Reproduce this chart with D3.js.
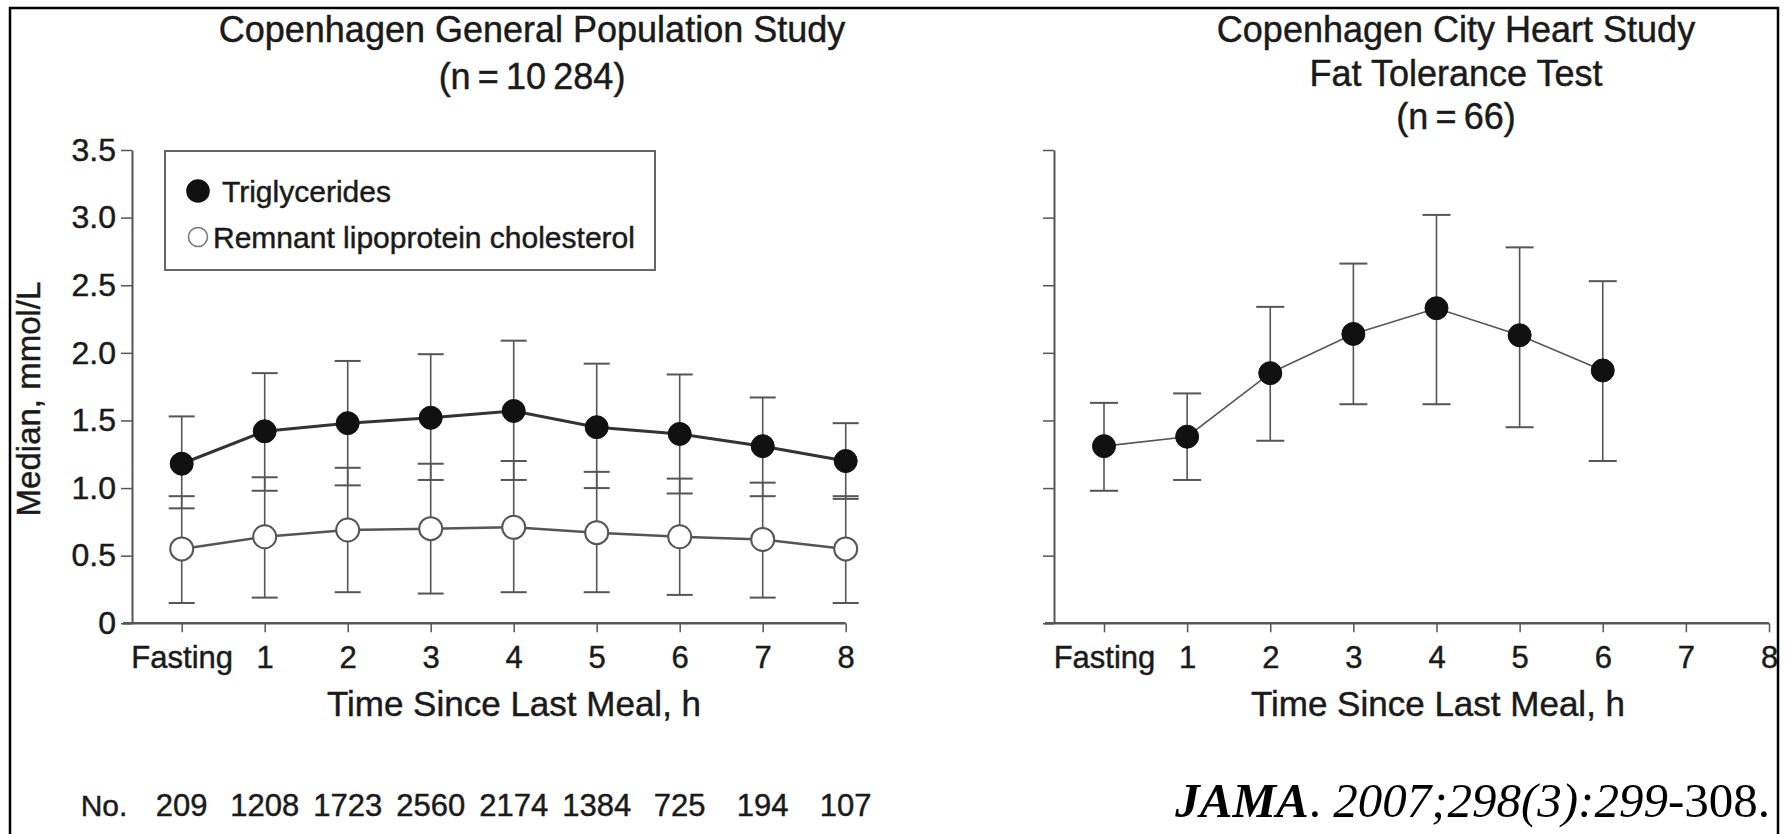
<!DOCTYPE html>
<html>
<head>
<meta charset="utf-8">
<script src="https://cdn.jsdelivr.net/npm/d3@7"></script>
<style>
  body { margin: 0; background: #fff; }
  svg { display: block; font-family: "Liberation Sans", Arial, Helvetica, sans-serif; }
  .lbl text, text.lbl { fill: #1a1a1a; stroke: #1a1a1a; stroke-width: 0.45; }
</style>
</head>
<body>
<div id="chart"></div>
<script>
// data
const timeLabels = ["Fasting", "1", "2", "3", "4", "5", "6", "7", "8"];
const sampleSizes = [209, 1208, 1723, 2560, 2174, 1384, 725, 194, 107];

// Copenhagen General Population Study
const tgMedian  = [1.18, 1.42, 1.48, 1.52, 1.57, 1.45, 1.40, 1.31, 1.20];
const tgLow     = [0.85, 0.98, 1.02, 1.06, 1.06, 1.00, 0.96, 0.94, 0.92];
const tgHigh    = [1.53, 1.85, 1.94, 1.99, 2.09, 1.92, 1.84, 1.67, 1.48];
const remMedian = [0.55, 0.64, 0.69, 0.70, 0.71, 0.67, 0.64, 0.62, 0.55];
const remLow    = [0.15, 0.19, 0.23, 0.22, 0.23, 0.23, 0.21, 0.19, 0.15];
const remHigh   = [0.94, 1.08, 1.15, 1.18, 1.20, 1.12, 1.07, 1.04, 0.94];

// Copenhagen City Heart Study, fat tolerance test (fasting to 6 h)
const fatMedian = [1.31, 1.38, 1.85, 2.14, 2.33, 2.13, 1.87];
const fatLow    = [0.98, 1.06, 1.35, 1.62, 1.62, 1.45, 1.20];
const fatHigh   = [1.63, 1.70, 2.34, 2.66, 3.02, 2.78, 2.53];

const yTicks = [0, 0.5, 1.0, 1.5, 2.0, 2.5, 3.0, 3.5];

const W = 1787, H = 834;

const svg = d3.select("#chart").append("svg")
  .attr("width", W)
  .attr("height", H);

// shared y scale
const y = d3.scaleLinear().domain([0, 3.5]).range([623.3, 150]);

const xLeft = d3.scalePoint().domain(timeLabels).range([181.7, 845.7]);
const xRight = d3.scalePoint().domain(timeLabels).range([1104, 1769]);

function makeSeries(med, lo, hi) {
  return med.map((m, i) => ({ t: timeLabels[i], m: m, lo: lo[i], hi: hi[i] }));
}

function drawAxes(x, axisX, lineStart, showLabels) {
  const g = svg.append("g");

  const ya = g.append("g")
    .attr("class", "lbl")
    .attr("transform", `translate(${axisX},0)`)
    .call(d3.axisLeft(y)
      .tickValues(yTicks)
      .tickSize(11)
      .tickSizeOuter(0)
      .tickPadding(5)
      .tickFormat(d => showLabels ? (d === 0 ? "0" : d.toFixed(1)) : ""));
  ya.select(".domain").attr("stroke", "#555").attr("stroke-width", 2);
  ya.selectAll(".tick line").attr("stroke", "#555").attr("stroke-width", 1.5);
  ya.selectAll(".tick text").attr("font-size", 32).attr("font-family", null).attr("fill", null);

  const xa = g.append("g")
    .attr("class", "lbl")
    .attr("transform", `translate(0,${y(0)})`)
    .call(d3.axisBottom(x)
      .tickSize(9)
      .tickSizeOuter(0)
      .tickPadding(14));
  xa.select(".domain")
    .attr("d", `M${lineStart},0H${x(timeLabels[timeLabels.length - 1])}`)
    .attr("stroke", "#555").attr("stroke-width", 2.5);
  xa.selectAll(".tick line").attr("stroke", "#555").attr("stroke-width", 1.5);
  xa.selectAll(".tick text").attr("font-size", 31).attr("font-family", null).attr("fill", null);

  return g;
}

function drawErrorBars(g, x, data, cap, color) {
  const eb = g.append("g").attr("stroke", color).attr("stroke-width", 1.6);
  eb.selectAll("line.v").data(data).join("line")
    .attr("x1", d => x(d.t)).attr("x2", d => x(d.t))
    .attr("y1", d => y(d.lo)).attr("y2", d => y(d.hi));
  eb.selectAll("line.hi").data(data).join("line")
    .attr("stroke-width", 2)
    .attr("x1", d => x(d.t) - cap).attr("x2", d => x(d.t) + cap)
    .attr("y1", d => y(d.hi)).attr("y2", d => y(d.hi));
  eb.selectAll("line.lo").data(data).join("line")
    .attr("stroke-width", 2)
    .attr("x1", d => x(d.t) - cap).attr("x2", d => x(d.t) + cap)
    .attr("y1", d => y(d.lo)).attr("y2", d => y(d.lo));
}

function drawLine(g, x, data, color, width) {
  const line = d3.line().x(d => x(d.t)).y(d => y(d.m));
  g.append("path")
    .datum(data)
    .attr("d", line)
    .attr("fill", "none")
    .attr("stroke", color)
    .attr("stroke-width", width);
}

function drawPoints(g, x, data, fill, stroke, sw) {
  g.append("g").selectAll("circle").data(data).join("circle")
    .attr("cx", d => x(d.t))
    .attr("cy", d => y(d.m))
    .attr("r", 11.5)
    .attr("fill", fill)
    .attr("stroke", stroke)
    .attr("stroke-width", sw);
}

// ---- left panel
const tg = makeSeries(tgMedian, tgLow, tgHigh);
const rem = makeSeries(remMedian, remLow, remHigh);
const left = drawAxes(xLeft, 132, 123, true);
drawErrorBars(left, xLeft, rem, 13, "#555");
drawErrorBars(left, xLeft, tg, 13, "#555");
drawLine(left, xLeft, rem, "#555", 2.5);
drawLine(left, xLeft, tg, "#333", 3);
drawPoints(left, xLeft, rem, "#fff", "#555", 2);
drawPoints(left, xLeft, tg, "#111", "#111", 1);

// ---- right panel
const fat = makeSeries(fatMedian, fatLow, fatHigh);
const right = drawAxes(xRight, 1054, 1045, false);
drawErrorBars(right, xRight, fat, 14, "#555");
drawLine(right, xRight, fat, "#555", 1.6);
drawPoints(right, xRight, fat, "#111", "#111", 1);

// ---- titles
const txt = svg.append("g").attr("class", "lbl");
txt.append("text").attr("x", 532).attr("y", 42).attr("text-anchor", "middle")
  .attr("font-size", 36).text("Copenhagen General Population Study");
txt.append("text").attr("x", 532).attr("y", 89).attr("text-anchor", "middle")
  .attr("font-size", 36).text("(n\u2009=\u200910\u2009284)");

txt.append("text").attr("x", 1456).attr("y", 42).attr("text-anchor", "middle")
  .attr("font-size", 36).text("Copenhagen City Heart Study");
txt.append("text").attr("x", 1456).attr("y", 86).attr("text-anchor", "middle")
  .attr("font-size", 36).text("Fat Tolerance Test");
txt.append("text").attr("x", 1456).attr("y", 129).attr("text-anchor", "middle")
  .attr("font-size", 36).text("(n\u2009=\u200966)");

// axis titles
txt.append("text").attr("x", 514).attr("y", 716).attr("text-anchor", "middle")
  .attr("font-size", 35).text("Time Since Last Meal, h");
txt.append("text").attr("x", 1438).attr("y", 716).attr("text-anchor", "middle")
  .attr("font-size", 35).text("Time Since Last Meal, h");
txt.append("text")
  .attr("transform", "translate(40,399) rotate(-90)")
  .attr("text-anchor", "middle")
  .attr("font-size", 33).text("Median, mmol/L");

// sample sizes row
txt.append("text").attr("x", 104).attr("y", 816).attr("text-anchor", "middle")
  .attr("font-size", 30).text("No.");
txt.append("g").selectAll("text").data(sampleSizes).join("text")
  .attr("x", (d, i) => xLeft(timeLabels[i]))
  .attr("y", 816)
  .attr("text-anchor", "middle")
  .attr("font-size", 31)
  .text(d => d);

// ---- legend
const legend = svg.append("g");
legend.append("rect")
  .attr("x", 165).attr("y", 151).attr("width", 490).attr("height", 119)
  .attr("fill", "#fff").attr("stroke", "#666").attr("stroke-width", 2);
const legendItems = [
  { label: "Triglycerides", fill: "#111", stroke: "#111", r: 11, tx: 24 },
  { label: "Remnant lipoprotein cholesterol", fill: "#fff", stroke: "#777", r: 9.5, tx: 15 }
];
const li = legend.selectAll("g.item").data(legendItems).join("g")
  .attr("class", "lbl")
  .attr("transform", (d, i) => `translate(198,${191 + i * 46})`);
li.append("circle").attr("r", d => d.r).attr("fill", d => d.fill)
  .attr("stroke", d => d.stroke).attr("stroke-width", 1.6);
li.append("text").attr("x", d => d.tx).attr("dy", "0.36em").attr("font-size", 30)
  .text(d => d.label);

// ---- citation
const cite = svg.append("text")
  .attr("x", 1770).attr("y", 817).attr("text-anchor", "end")
  .attr("font-family", "'Liberation Serif', 'Times New Roman', serif")
  .attr("font-size", 49).attr("fill", "#000");
cite.append("tspan").attr("font-weight", "bold").attr("font-style", "italic").text("JAMA");
cite.append("tspan").text(". ");
cite.append("tspan").attr("font-style", "italic").text("2007;298(3):299");
cite.append("tspan").text("-308.");

// ---- frame
svg.append("rect")
  .attr("x", 10).attr("y", 8).attr("width", 1768).attr("height", 840)
  .attr("fill", "none").attr("stroke", "#000").attr("stroke-width", 2.5);
</script>
</body>
</html>
